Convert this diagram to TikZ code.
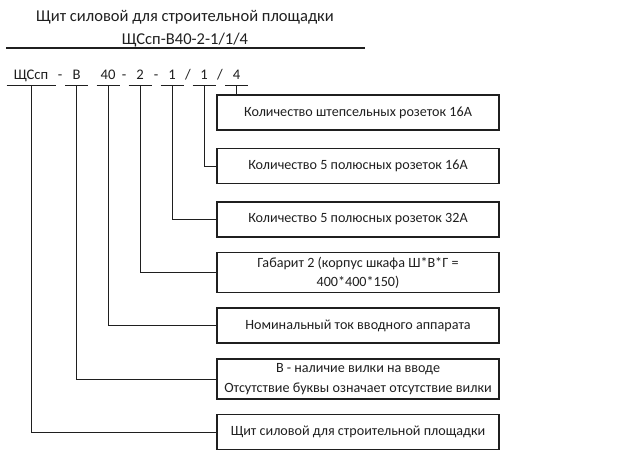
\documentclass[tikz,border=0pt]{standalone}
\usepackage{fontspec}
\setmainfont{Carlito}

\tikzset{every picture/.style={line width=0.75pt}}
\tikzset{code/.style={inner sep=0pt,text height=9pt,text depth=4.5pt,font=\fontsize{11}{13}\selectfont}}
\tikzset{box/.style={draw,line width=1.1pt,minimum width=211.5pt,minimum height=26.5pt,align=center,font=\fontsize{10.6}{14.5}\selectfont}}

\begin{document}
\begin{tikzpicture}[x=0.75pt,y=-0.75pt,color={black!88}]
			\useasboundingbox (0,0) rectangle (640,461);
			\node (title) at (185,17) {\fontsize{12.4}{15}\selectfont Щит силовой для строительной площадки};
			\node (mark) at (185,40) {\fontsize{12.4}{15}\selectfont ЩСсп-В40-2-1/1/4};
			\draw[line width=1.2pt] (6,48) -- (365,48);

			\node [code,minimum width=36pt] (c1) at (31,76) {ЩСсп};
			\node [code,minimum width=16pt] (c2) at (76.5,76) {В};
			\node [code,minimum width=16.5pt] (c3) at (108,76) {40};
			\node [code,minimum width=16.5pt] (c4) at (140,76) {2};
			\node [code,minimum width=16.5pt] (c5) at (172,76) {1};
			\node [code,minimum width=16.5pt] (c6) at (204,76) {1};
			\node [code,minimum width=16pt] (c7) at (236.5,76) {4};
			\node [code] (s1) at (60,76) {-};
			\node [code] (s2) at (124,76) {-};
			\node [code] (s3) at (156,76) {-};
			\node [code] (s4) at (188,76) {/};
			\node [code] (s5) at (220,76) {/};
			\foreach \c in {c1,c2,c3,c4,c5,c6,c7}
				\draw (\c.south west) -- (\c.south east);

			\node [box] (b1) at (358,112.5) {Количество штепсельных розеток 16А};
			\node [box] (b2) at (358,166) {Количество 5 полюсных розеток 16А};
			\node [box] (b3) at (358,219.5) {Количество 5 полюсных розеток 32А};
			\node [box] (b4) at (358,272.5) {Габарит 2 (корпус шкафа Ш*В*Г =\\400*400*150)};
			\node [box] (b5) at (358,325.5) {Номинальный ток вводного аппарата};
			\node [box] (b6) at (358,379) {В - наличие вилки на вводе\\Отсутствие буквы означает отсутствие вилки};
			\node [box] (b7) at (358,432) {Щит силовой для строительной площадки};

			\draw (c7.south) -- (c7.south |- b1.north);
			\draw (c6.south) |- (b2.west);
			\draw (c5.south) |- (b3.west);
			\draw (c4.south) |- (b4.west);
			\draw (c3.south) |- (b5.west);
			\draw (c2.south) |- (b6.west);
			\draw (c1.south) |- (b7.west);
		\end{tikzpicture}
\end{document}
